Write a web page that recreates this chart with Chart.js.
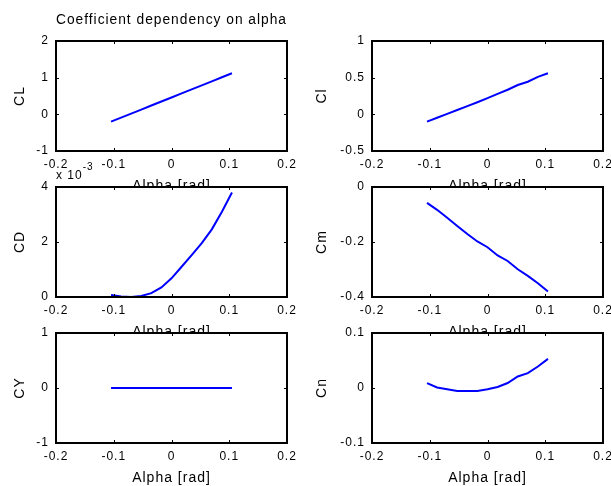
<!DOCTYPE html>
<html>
<head>
<meta charset="utf-8">
<title>Coefficient dependency on alpha</title>
<script src="https://cdn.jsdelivr.net/npm/chart.js@4.4.1/dist/chart.umd.min.js"></script>
<style>
    html, body { margin: 0; padding: 0; background: #fff; overflow: hidden; }
    #fig { position: relative; width: 611px; height: 486px; overflow: hidden; }
    #fig canvas { position: absolute; }
</style>
</head>
<body>
<div id="fig">
    <canvas id="cCL" width="305" height="196" style="left:0;top:0"></canvas>
    <canvas id="cCl" width="306" height="196" style="left:305px;top:0"></canvas>
    <canvas id="cCD" width="305" height="196" style="left:0;top:146px"></canvas>
    <canvas id="cCm" width="306" height="196" style="left:305px;top:146px"></canvas>
    <canvas id="cCY" width="305" height="196" style="left:0;top:292px"></canvas>
    <canvas id="cCn" width="306" height="196" style="left:305px;top:292px"></canvas>
</div>
<script>
// --- Data (alpha in rad, -6..6 deg) ---
const alpha = [-0.1047, -0.0873, -0.0698, -0.0524, -0.0349, -0.0175, 0, 0.0175, 0.0349, 0.0524, 0.0698, 0.0873, 0.1047];
const cL = [-0.20, -0.09, 0.02, 0.13, 0.24, 0.35, 0.46, 0.57, 0.68, 0.79, 0.90, 1.01, 1.12];
const cl = [-0.10, -0.047, 0.006, 0.059, 0.112, 0.165, 0.22, 0.28, 0.335, 0.40, 0.445, 0.51, 0.56];
const cD = [0.07, 0.02, 0.00, 0.04, 0.14, 0.35, 0.68, 1.10, 1.52, 1.96, 2.46, 3.10, 3.80]; // x 10^-3
const cm = [-0.058, -0.083, -0.112, -0.142, -0.171, -0.198, -0.219, -0.249, -0.269, -0.299, -0.323, -0.35, -0.38];
const cY = [0, 0, 0, 0, 0, 0, 0, 0, 0, 0, 0, 0, 0];
const cn = [0.009, 0.001, -0.0024, -0.0055, -0.0055, -0.0055, -0.0024, 0.0018, 0.009, 0.021, 0.027, 0.039, 0.053];

const xTicks = [-0.2, -0.1, 0, 0.1, 0.2];
const yTicksCL = [-1, 0, 1, 2];
const yTicksCl = [-0.5, 0, 0.5, 1];
const yTicksCD = [0, 2, 4];
const yTicksCm = [-0.4, -0.2, 0];
const yTicksCY = [-1, 0, 1];
const yTicksCn = [-0.1, 0, 0.1];

const FONT = "'Liberation Sans', Arial, sans-serif";
Chart.defaults.font.family = FONT;
Chart.defaults.color = '#000';

const fmt = v => String(+Number(v).toFixed(2));

// white axes background, inward ticks on all sides, thick box
const axesBox = {
    id: 'axesBox',
    beforeDraw(chart) {
        const { ctx, chartArea: a } = chart;
        ctx.letterSpacing = '1px';
        ctx.save();
        ctx.fillStyle = '#fff';
        ctx.fillRect(a.left, a.top, a.width, a.height);
        ctx.restore();
    },
    afterDraw(chart, args, opts) {
        const { ctx, chartArea: a, scales: { x, y } } = chart;
        ctx.save();
        ctx.strokeStyle = '#000';
        ctx.lineWidth = 1;
        ctx.beginPath();
        x.ticks.forEach(t => {
            const px = Math.round(x.getPixelForValue(t.value)) + 0.5;
            ctx.moveTo(px, a.bottom); ctx.lineTo(px, a.bottom - 3);
            ctx.moveTo(px, a.top); ctx.lineTo(px, a.top + 3);
        });
        y.ticks.forEach(t => {
            const py = Math.round(y.getPixelForValue(t.value)) + 0.5;
            ctx.moveTo(a.left, py); ctx.lineTo(a.left + 3, py);
            ctx.moveTo(a.right, py); ctx.lineTo(a.right - 3, py);
        });
        ctx.stroke();
        ctx.lineWidth = 2;
        ctx.strokeRect(a.left, a.top, a.width, a.height);

        if (opts.exponent) {
            ctx.fillStyle = '#000';
            ctx.textBaseline = 'alphabetic';
            ctx.textAlign = 'left';
            ctx.font = `12px ${FONT}`;
            const base = 'x 10';
            ctx.fillText(base, a.left, a.top - 8);
            const w = ctx.measureText(base).width;
            ctx.font = `10px ${FONT}`;
            ctx.fillText(opts.exponent, a.left + w, a.top - 17);
        }
        ctx.restore();
    }
};

function makeChart(id, label, vals, yTicks, cfg) {
    const right = cfg.col === 1;
    const yW = right ? 67 : 56;
    const padR = right ? 8 : 18;
    const points = alpha.map((a, i) => ({ x: a, y: vals[i] }));

    return new Chart(document.getElementById(id), {
        type: 'line',
        data: {
            datasets: [{
                data: points,
                borderColor: '#0000ff',
                borderWidth: 2,
                pointRadius: 0,
                tension: 0,
                fill: false
            }]
        },
        options: {
            responsive: false,
            animation: false,
            devicePixelRatio: 1,
            layout: { padding: { left: 0, right: padR, top: cfg.title ? 0 : 41, bottom: 0 } },
            scales: {
                x: {
                    type: 'linear',
                    min: xTicks[0],
                    max: xTicks[xTicks.length - 1],
                    afterBuildTicks: s => { s.ticks = xTicks.map(v => ({ value: v })); },
                    afterFit: s => { s.height = 45; s.paddingLeft = 0; s.paddingRight = 0; },
                    ticks: { font: { size: 12 }, padding: 6, maxRotation: 0, autoSkip: false, callback: fmt },
                    grid: { display: false, drawTicks: false },
                    border: { display: false },
                    title: { display: true, text: 'Alpha [rad]', font: { size: 14 }, padding: { top: 0, bottom: 1 } }
                },
                y: {
                    type: 'linear',
                    min: yTicks[0],
                    max: yTicks[yTicks.length - 1],
                    afterBuildTicks: s => { s.ticks = yTicks.map(v => ({ value: v })); },
                    afterFit: s => { s.width = yW; s.paddingTop = 0; s.paddingBottom = 0; },
                    ticks: { font: { size: 12 }, padding: 7, autoSkip: false, callback: fmt },
                    grid: { display: false, drawTicks: false },
                    border: { display: false },
                    title: { display: true, text: label, font: { size: 14 }, padding: { top: right ? 8.5 : 11.5, bottom: 0 } }
                }
            },
            plugins: {
                legend: { display: false },
                tooltip: { enabled: false },
                title: {
                    display: !!cfg.title,
                    text: cfg.title || '',
                    fullSize: false,
                    font: { size: 14, weight: 'normal' },
                    padding: { top: 12, bottom: 12.2 }
                },
                axesBox: { exponent: cfg.exponent || '' }
            }
        },
        plugins: [axesBox]
    });
}

makeChart('cCL', 'CL', cL, yTicksCL, { col: 0, title: 'Coefficient dependency on alpha' });
makeChart('cCl', 'Cl', cl, yTicksCl, { col: 1 });
makeChart('cCD', 'CD', cD, yTicksCD, { col: 0, exponent: '-3' });
makeChart('cCm', 'Cm', cm, yTicksCm, { col: 1 });
makeChart('cCY', 'CY', cY, yTicksCY, { col: 0 });
makeChart('cCn', 'Cn', cn, yTicksCn, { col: 1 });
</script>
</body>
</html>
